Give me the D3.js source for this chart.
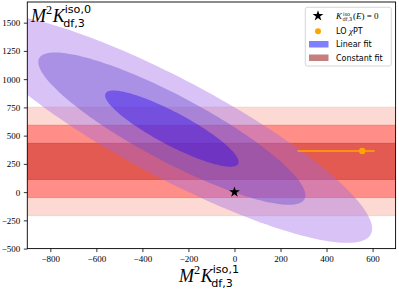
<!DOCTYPE html>
<html><head><meta charset="utf-8">
<script src="https://cdn.jsdelivr.net/npm/d3@7"></script>
<style>
html,body{margin:0;padding:0;background:#fff;}
svg{display:block;}
</style></head>
<body>
<svg id="chart" width="399" height="293"></svg>
<script>
// ---- data ----
const xDomain = [-900, 700];
const yDomain = [-500, 1683];
const xTicks = [-800, -600, -400, -200, 0, 200, 400, 600];
const yTicks = [-500, -250, 0, 250, 500, 750, 1000, 1250, 1500];
// linear fit: center and covariance (K^iso,1 , K^iso,0)
const linearCenter = [-272, 562];
const linearSigma = [290, 337];
const linearCorr = -0.875;
const sigmaLevels = [3, 2, 1];
const ellipseColors = ["rgb(160,102,230)", "rgb(100,72,208)", "rgb(40,3,235)"];
// constant fit
const constantValue = 272;
const constantSigma = 160;
const bandColors = ["rgb(249,179,165)", "rgb(255,67,60)", "rgb(197,38,29)"];
// zero point
const zeroPoint = [0, 0];
// LO chiPT
const loX = 555, loY = 364, loXlo = 274, loXhi = 609;

// ---- layout ----
const svg = d3.select("#chart");
const L = 27.3, R = 395.6, T = 2, B = 248.6;
const x = d3.scaleLinear().domain(xDomain).range([L, R]);
const y = d3.scaleLinear().domain(yDomain).range([B, T]);

svg.append("defs").append("clipPath").attr("id", "clip")
  .append("rect").attr("x", L).attr("y", T).attr("width", R - L).attr("height", B - T);
const plot = svg.append("g").attr("clip-path", "url(#clip)");

// bands (outer first)
sigmaLevels.forEach((k, i) => {
  const lo = constantValue - k * constantSigma, hi = constantValue + k * constantSigma;
  plot.append("rect").attr("x", L).attr("width", R - L)
    .attr("y", y(hi)).attr("height", y(lo) - y(hi))
    .attr("fill", bandColors[i]).attr("fill-opacity", 0.5);
  [lo, hi].forEach(v => plot.append("line").attr("x1", L).attr("x2", R)
    .attr("y1", y(v)).attr("y2", y(v))
    .attr("stroke", bandColors[i]).attr("stroke-opacity", 0.6).attr("stroke-width", 0.7));
});

// ellipses
const sx = linearSigma[0], sy = linearSigma[1];
const cov = linearCorr * sx * sy;
const l21 = cov / sx, l22 = Math.sqrt(sy * sy - l21 * l21);
const ts = d3.range(0, 360, 2).map(d => d * Math.PI / 180);
const lineGen = d3.line().x(d => x(d[0])).y(d => y(d[1])).curve(d3.curveLinearClosed);
sigmaLevels.forEach((k, i) => {
  const pts = ts.map(t => [linearCenter[0] + k * sx * Math.cos(t),
                           linearCenter[1] + k * (l21 * Math.cos(t) + l22 * Math.sin(t))]);
  plot.append("path").attr("d", lineGen(pts)).attr("fill", ellipseColors[i]).attr("fill-opacity", 0.4);
});

// LO chiPT error bar
plot.append("line").attr("x1", x(loXlo)).attr("x2", x(loXhi)).attr("y1", y(loY)).attr("y2", y(loY))
  .attr("stroke", "orange").attr("stroke-width", 1.5);
plot.append("circle").attr("cx", x(loX)).attr("cy", y(loY)).attr("r", 3.2).attr("fill", "orange");

// star
plot.append("path").attr("d", d3.symbol(d3.symbolStar).size(36)())
  .attr("transform", `translate(${x(zeroPoint[0])},${y(zeroPoint[1])})`).attr("fill", "#000");

// axes
const fmt = d => d < 0 ? "\u2212" + Math.abs(d) : String(d);
const ax = svg.append("g").attr("transform", `translate(0,${B})`)
  .call(d3.axisBottom(x).tickValues(xTicks).tickFormat(fmt).tickSize(3.5).tickPadding(3.5));
const ay = svg.append("g").attr("transform", `translate(${L},0)`)
  .call(d3.axisLeft(y).tickValues(yTicks).tickFormat(fmt).tickSize(3.5).tickPadding(3.5));
[ax, ay].forEach(g => {
  g.attr("font-family", "Liberation Serif").attr("font-size", 9);
  g.select(".domain").remove();
  g.selectAll(".tick line").attr("stroke", "#000").attr("stroke-width", 0.8);
  g.selectAll(".tick text").attr("font-family", "Liberation Serif").attr("font-size", 9).attr("fill", "#000");
});
svg.append("rect").attr("x", L).attr("y", T).attr("width", R - L).attr("height", B - T)
  .attr("fill", "none").attr("stroke", "#000").attr("stroke-width", 0.9);

// math label helper
function mathLabel(g, x0, y0, F, sup, sub) {
  const t = g.append("text").attr("x", x0).attr("y", y0).attr("fill", "#000");
  t.append("tspan").attr("font-family", "Liberation Serif").attr("font-style", "italic")
    .attr("font-size", F).text("M");
  t.append("tspan").attr("font-family", "Liberation Serif").attr("font-size", F * 0.68)
    .attr("dy", -F * 0.42).text("2");
  t.append("tspan").attr("font-family", "Liberation Serif").attr("font-style", "italic")
    .attr("font-size", F).attr("dy", F * 0.42).attr("dx", 0.5).text("K");
  const kx = t.node().getComputedTextLength() + x0;
  g.append("text").attr("x", kx + 0.5).attr("y", y0 - F * 0.52).attr("font-family", "DejaVu Sans")
    .attr("font-size", F * 0.62).text(sup);
  g.append("text").attr("x", kx - 1).attr("y", y0 + F * 0.28).attr("font-family", "DejaVu Sans")
    .attr("font-size", F * 0.62).text(sub);
}
mathLabel(svg.append("g"), 179, 282, 18, "iso,1", "df,3");
mathLabel(svg.append("g"), 31, 22, 18, "iso,0", "df,3");

// legend
const lg = svg.append("g");
lg.append("rect").attr("x", 305.3).attr("y", 7.3).attr("width", 86).attr("height", 58.7).attr("rx", 2)
  .attr("fill", "#fff").attr("fill-opacity", 0.85).attr("stroke", "#ccc").attr("stroke-width", 0.8);
const mx = 318, tx = 336;
lg.append("path").attr("d", d3.symbol(d3.symbolStar).size(36)()).attr("transform", `translate(${mx},15.8)`).attr("fill", "#000");
lg.append("circle").attr("cx", mx).attr("cy", 31.3).attr("r", 3).attr("fill", "orange");
lg.append("rect").attr("x", 309).attr("y", 41).attr("width", 19.5).attr("height", 6.5).attr("fill", "blue").attr("fill-opacity", 0.5);
lg.append("rect").attr("x", 309).attr("y", 54.5).attr("width", 19.5).attr("height", 6.5).attr("fill", "darkred").attr("fill-opacity", 0.5);
// entry 1
const e1 = lg.append("text").attr("x", tx).attr("y", 19).attr("font-family", "Liberation Serif").attr("font-size", 9);
e1.append("tspan").attr("font-style", "italic").text("K");
lg.append("text").attr("x", tx + 7).attr("y", 15.5).attr("font-family", "DejaVu Sans").attr("font-size", 5).text("iso");
lg.append("text").attr("x", tx + 6.5).attr("y", 21).attr("font-family", "DejaVu Sans").attr("font-size", 5).text("df,3");
const e1b = lg.append("text").attr("x", tx + 17).attr("y", 19).attr("font-family", "Liberation Serif").attr("font-size", 9);
e1b.append("tspan").text("(");
e1b.append("tspan").attr("font-style", "italic").text("E");
e1b.append("tspan").text(") = 0");
const e2 = lg.append("text").attr("x", tx).attr("y", 34.3).attr("font-family", "DejaVu Sans").attr("font-size", 8);
e2.append("tspan").text("LO ");
e2.append("tspan").attr("font-family", "Liberation Serif").attr("font-style", "italic").attr("font-size", 9).text("χ");
e2.append("tspan").text("PT");
lg.append("text").attr("x", tx).attr("y", 47).attr("font-family", "DejaVu Sans").attr("font-size", 8).text("Linear fit");
lg.append("text").attr("x", tx).attr("y", 60.6).attr("font-family", "DejaVu Sans").attr("font-size", 8).text("Constant fit");
</script>
</body></html>
